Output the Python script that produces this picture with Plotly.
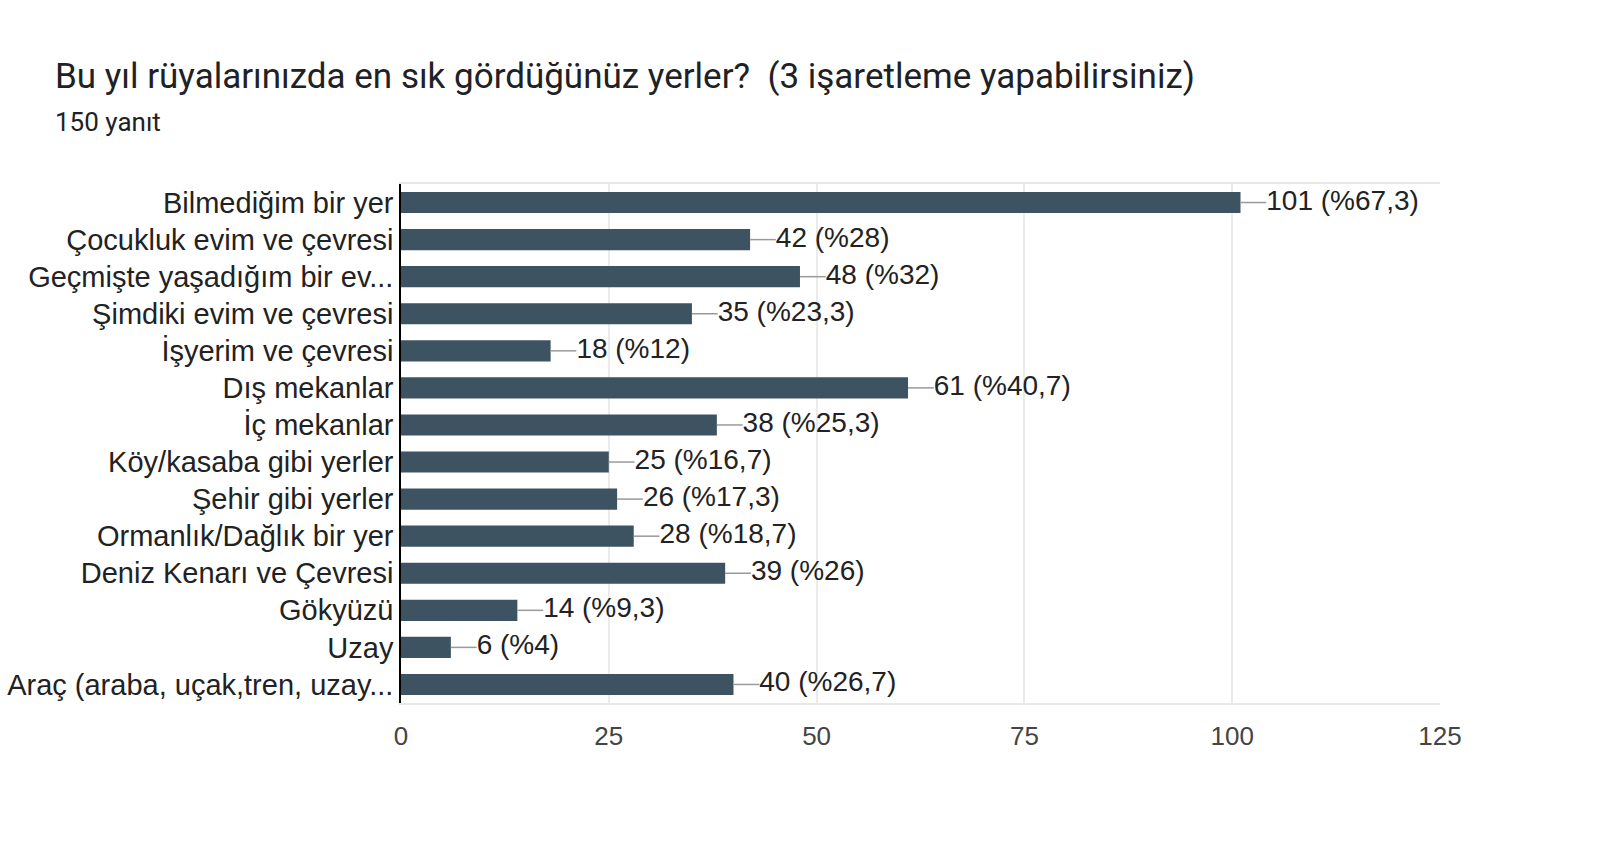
import plotly.graph_objects as go

title = "Bu yıl rüyalarınızda en sık gördüğünüz yerler?  (3 işaretleme yapabilirsiniz)"
subtitle = "150 yanıt"
categories = [
    "Bilmediğim bir yer",
    "Çocukluk evim ve çevresi",
    "Geçmişte yaşadığım bir ev...",
    "Şimdiki evim ve çevresi",
    "İşyerim ve çevresi",
    "Dış mekanlar",
    "İç mekanlar",
    "Köy/kasaba gibi yerler",
    "Şehir gibi yerler",
    "Ormanlık/Dağlık bir yer",
    "Deniz Kenarı ve Çevresi",
    "Gökyüzü",
    "Uzay",
    "Araç (araba, uçak,tren, uzay...",
]
counts = [101, 42, 48, 35, 18, 61, 38, 25, 26, 28, 39, 14, 6, 40]
percents = ["67,3", "28", "32", "23,3", "12", "40,7", "25,3", "16,7", "17,3", "18,7", "26", "9,3", "4", "26,7"]
x_ticks = [0, 25, 50, 75, 100, 125]

BAR = "#3d5361"
LEAD = 3.1  # leader line length in data units

fig = go.Figure()
fig.add_trace(go.Bar(
    x=counts, y=categories, orientation="h",
    marker=dict(color=BAR, line=dict(width=0)),
    hoverinfo="skip",
))

lx, ly = [], []
for c, v in zip(categories, counts):
    lx += [v, v + LEAD, None]
    ly += [c, c, None]
fig.add_trace(go.Scatter(
    x=lx, y=ly, mode="lines",
    line=dict(color="#9a9a9a", width=1.5),
    hoverinfo="skip",
))
fig.add_trace(go.Scatter(
    x=[v + LEAD for v in counts], y=categories, mode="text",
    text=[f"{v} (%{p})" for v, p in zip(counts, percents)],
    textposition="middle right",
    textfont=dict(family="Liberation Sans, Arial", size=28, color="#222222"),
    cliponaxis=False, hoverinfo="skip",
))

n = len(categories)
fig.update_layout(
    width=1600, height=848,
    margin=dict(l=401, r=160, t=184, b=145, autoexpand=False),
    paper_bgcolor="white", plot_bgcolor="white",
    showlegend=False, bargap=0.43,
    xaxis=dict(
        range=[0, 125], tickvals=x_ticks, ticktext=[str(t) for t in x_ticks],
        showgrid=True, gridcolor="#ebebeb", gridwidth=1.5,
        showline=True, mirror=True, linecolor="#e8e8e8", linewidth=1.5,
        zeroline=False, ticks="", ticklabelstandoff=9, automargin=False,
        tickfont=dict(family="Liberation Sans, Arial", size=26, color="#444444"),
        fixedrange=True,
    ),
    yaxis=dict(
        categoryorder="array", categoryarray=categories,
        range=[n - 0.5, -0.5], autorange=False,
        showline=True, linecolor="#000000", linewidth=1.5,
        showgrid=False, zeroline=False, ticks="", ticklabelstandoff=0,
        automargin=False,
        tickfont=dict(family="Liberation Sans, Arial", size=29, color="#222222"),
        fixedrange=True,
    ),
    annotations=[
        dict(text=title, x=53, y=848 - 76, xref="paper", yref="paper",
             xanchor="left", yanchor="middle", showarrow=False,
             font=dict(family="Roboto", size=35, color="#202124")),
        dict(text=subtitle, x=53, y=848 - 122, xref="paper", yref="paper",
             xanchor="left", yanchor="middle", showarrow=False,
             font=dict(family="Roboto", size=26, color="#202124")),
    ],
)
# convert pixel positions of the header annotations into paper coordinates
pw = 1600 - 401 - 160
ph = 848 - 184 - 145
for a in fig.layout.annotations:
    a.x = (a.x - 401) / pw
    a.y = (a.y - 145) / ph

fig.write_html("out.html")
